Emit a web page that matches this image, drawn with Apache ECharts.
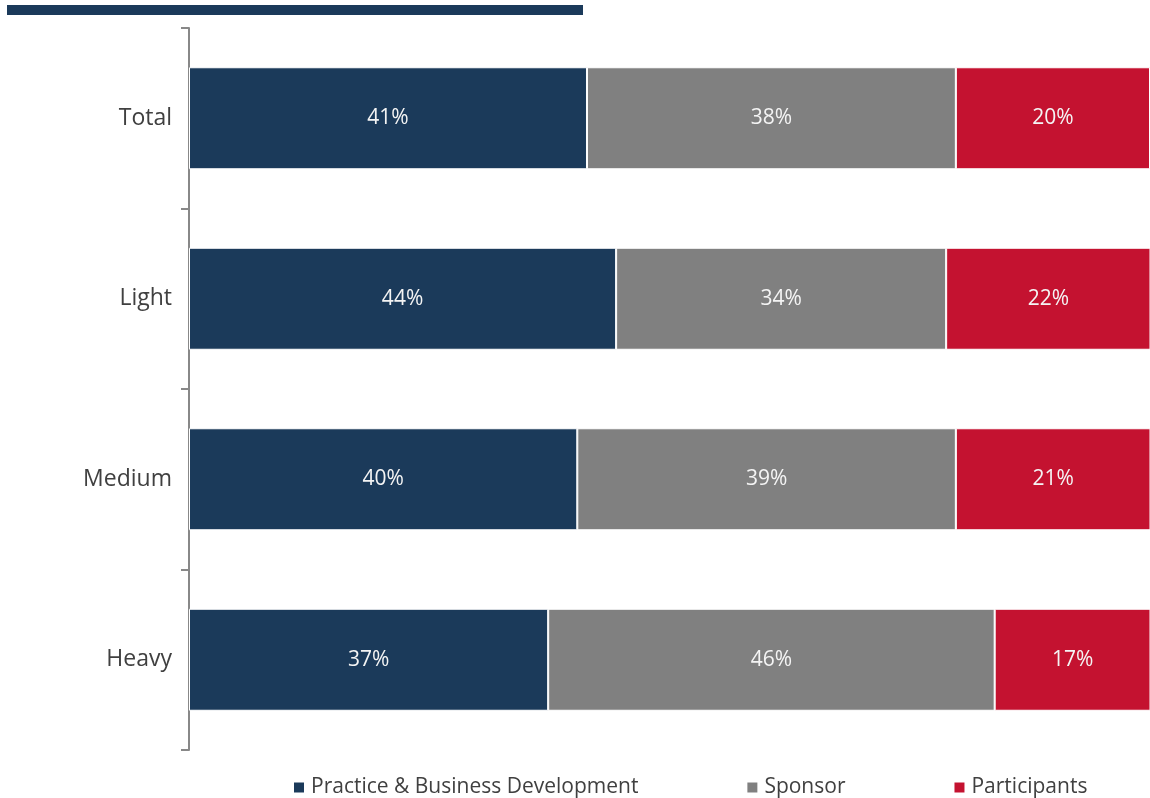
<!DOCTYPE html>
<html>
<head>
<meta charset="utf-8">
<script src="https://cdn.jsdelivr.net/npm/echarts@6/dist/echarts.min.js"></script>
<style>
  html, body { margin: 0; padding: 0; background: #ffffff; }
  #chart { width: 1150px; height: 798px; }
</style>
</head>
<body>
<div id="chart"></div>
<script>
// Usage segments
const categories = ['Total', 'Light', 'Medium', 'Heavy'];
const practiceDev = [41, 44, 40, 37];
const sponsor = [38, 34, 39, 46];
const participants = [20, 22, 21, 17];

const seriesNames = ['Practice & Business Development', 'Sponsor', 'Participants'];
const seriesColors = ['#1b3a5a', '#808080', '#c41230'];
const seriesData = [practiceDev, sponsor, participants];

const chart = echarts.init(document.getElementById('chart'));
const fontFamily = '"Open Sans", "Noto Sans", sans-serif';

chart.setOption({
  animation: false,
  textStyle: { fontFamily },
  graphic: [{
    type: 'rect',
    shape: { x: 7, y: 5, width: 576, height: 10 },
    style: { fill: '#1b3a5a' }
  }],
  legend: {
    top: 777,
    left: 294,
    padding: 0,
    itemWidth: 10,
    itemHeight: 10,
    itemGap: 109,
    icon: 'rect',
    itemStyle: { borderWidth: 0 },
    textStyle: { fontSize: 21, color: '#404040', fontFamily, padding: [0, 0, 0, 2] },
    data: seriesNames
  },
  grid: { left: 189, top: 28, right: 0, height: 722 },
  xAxis: {
    type: 'value',
    min: 0,
    max: 99,
    show: false
  },
  yAxis: {
    type: 'category',
    inverse: true,
    data: categories,
    axisLine: { show: true, lineStyle: { color: '#888888', width: 2 } },
    axisTick: { show: true, length: 8, lineStyle: { color: '#888888', width: 2 } },
    axisLabel: { fontSize: 23, color: '#404040', margin: 17, fontFamily, padding: [4, 0, 0, 0] }
  },
  series: seriesData.map((vals, i) => ({
    name: seriesNames[i],
    type: 'bar',
    stack: 'total',
    barWidth: 102,
    data: vals,
    itemStyle: { color: seriesColors[i], borderColor: '#ffffff', borderWidth: 1 },
    label: {
      show: true,
      position: 'inside',
      formatter: '{c}%',
      color: '#f4f4f4',
      fontSize: 21,
      fontFamily,
      padding: [4, 0, 0, 0]
    }
  }))
});
</script>
</body>
</html>
